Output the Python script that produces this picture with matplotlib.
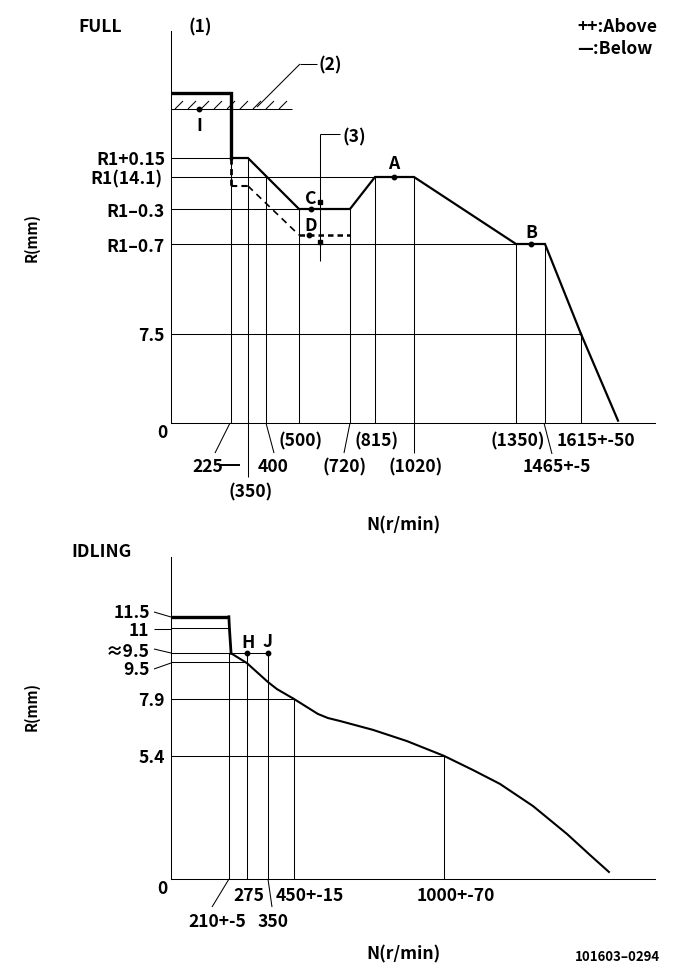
import numpy as np
import matplotlib
matplotlib.use('Agg')
import matplotlib.pyplot as plt

FONT = ['Noto Sans CJK JP', 'DejaVu Sans']
plt.rcParams['font.family'] = FONT

W, H = 681, 979

# ---- FULL panel: schematic scale anchors (value -> drawing position)
full_n_vals = [0, 225, 350, 400, 500, 720, 815, 1020, 1350, 1465, 1615, 1800, 2000]
full_n_pos = [171, 231, 248, 266, 299, 350, 375, 414, 516, 545, 581, 618, 655]
full_r_vals = [0, 7.5, 13.4, 13.5, 13.8, 14.02, 14.1, 14.25, 15.0, 15.5, 17.0]
full_r_pos = [424, 335, 245, 236, 210, 187, 178, 159, 110, 94, 32]

full_n = [0, 225, 225, 350, 500, 720, 815, 1020, 1350, 1465, 1615, 1800]
full_r = [15.5, 15.5, 14.25, 14.25, 13.8, 13.8, 14.1, 14.1, 13.4, 13.4, 7.5, 0.2]
below_n = [225, 225, 350, 500, 720]
below_r = [14.25, 14.02, 14.02, 13.5, 13.5]
full_h_r = [14.25, 14.1, 13.8, 13.4, 7.5]
full_h_n = [350, 815, 500, 1350, 1615]
full_h_lab = ['R1+0.15', 'R1(14.1)', 'R1\u20130.3', 'R1\u20130.7', '7.5']
full_v_n = [225, 350, 400, 500, 720, 815, 1020, 1350, 1465, 1615]
full_v_r = [15.5, 14.25, 14.1, 13.8, 13.8, 14.1, 14.1, 13.4, 13.4, 7.5]
full_pts = {'I': (105, 15.0), 'C': (552, 13.8), 'D': (545, 13.5), 'A': (915, 14.1), 'B': (1410, 13.4)}

# ---- IDLING panel
idle_thick_n = [0, 212, 214, 220]
idle_thick_r = [11.5, 11.5, 11.0, 9.9]
idle_n = [220, 278, 355, 388, 450, 538, 575, 619, 740, 864, 1000, 1106, 1205, 1326, 1451, 1535, 1604]
idle_r = [9.9, 9.47, 8.64, 8.33, 7.9, 7.24, 7.06, 6.93, 6.54, 6.05, 5.4, 4.78, 4.17, 3.2, 1.97, 1.05, 0.31]
idle_h_r = [11.0, 9.9, 9.5, 7.9, 5.4]
idle_h_n = [212, 355, 278, 450, 1000]
idle_v_n = [212, 278, 355, 450, 1000]
idle_v_r = [9.9, 9.9, 9.9, 7.9, 5.4]
idle_pts = {'H': (278, 9.9), 'J': (355, 9.9)}

fig = plt.figure(figsize=(W / 100, H / 100), dpi=100, facecolor='white')


def axes_px(x0, x1, ytop, ybot):
    return fig.add_axes([x0 / W, 1 - ybot / H, (x1 - x0) / W, (ybot - ytop) / H])


def style(ax):
    for s in ('top', 'right'):
        ax.spines[s].set_visible(False)
    for s in ('left', 'bottom'):
        ax.spines[s].set_linewidth(0.75)
    ax.patch.set_alpha(0)


def pw(xs, ys):
    xs, ys = np.asarray(xs, float), np.asarray(ys, float)
    return (lambda v: np.interp(v, xs, ys), lambda v: np.interp(v, ys, xs))


# FULL
ax1 = axes_px(171, 655, 32, 424)
style(ax1)
ax1.set_xscale('function', functions=pw(full_n_vals, full_n_pos))
ax1.set_yscale('function', functions=pw(full_r_vals, -np.array(full_r_pos)))
ax1.set_xlim(0, 2000)
ax1.set_ylim(0, 17)
ax1.set_xticks([])
ax1.set_yticks([])
ax1.minorticks_off()
thin = dict(color='k', lw=0.75, solid_capstyle='butt')
for r, n in zip(full_h_r, full_h_n):
    ax1.plot([0, n], [r, r], **thin)
for n, r in zip(full_v_n, full_v_r):
    ax1.plot([n, n], [0, r], **thin)
ax1.plot([0, 479], [15.0, 15.0], **thin)
ax1.plot(full_n[:3], full_r[:3], color='k', lw=2.4, solid_joinstyle='miter')
ax1.plot(full_n[2:11], full_r[2:11], color='k', lw=1.6, solid_joinstyle='miter')
ax1.plot(full_n[10:], full_r[10:], color='k', lw=1.6)
ax1.plot(below_n[:2], below_r[:2], color='k', lw=2.0, ls=(0, (2.2, 1.6)))
ax1.plot(below_n[1:3], below_r[1:3], color='k', lw=1.5, ls=(0, (3, 2)))
ax1.plot(below_n[2:4], below_r[2:4], color='k', lw=1.2, ls=(0, (4, 3)))
ax1.plot(below_n[3:], below_r[3:], color='k', lw=1.8, ls=(0, (2.2, 1.6)))
for n, r in full_pts.values():
    ax1.plot([n], [r], 'o', color='k', ms=3.2)

# IDLING
ax2 = axes_px(171, 655, 558, 880)
style(ax2)
ax2.set_xticks([])
ax2.set_yticks([])
ax2.set_xlim(0, 484 / 0.273)
ax2.set_ylim(0, 322 / 22.8)
for r, n in zip(idle_h_r, idle_h_n):
    ax2.plot([0, n], [r, r], **thin)
for n, r in zip(idle_v_n, idle_v_r):
    ax2.plot([n, n], [0, r], **thin)
ax2.plot(idle_thick_n[:2], idle_thick_r[:2], color='k', lw=2.4, solid_capstyle='butt')
ax2.plot(idle_thick_n[1:], idle_thick_r[1:], color='k', lw=2.0)
ax2.plot(idle_n, idle_r, color='k', lw=1.5)
for n, r in idle_pts.values():
    ax2.plot([n], [r], 'o', color='k', ms=3.2)

# Overlay in drawing positions for labels, leaders and the hatching
ov = fig.add_axes([0, 0, 1, 1])
ov.set_xlim(0, W)
ov.set_ylim(H, 0)
ov.axis('off')
ov.patch.set_alpha(0)


def T(x, y, s, ha='left', fs=12.6):
    ov.text(x, y + 6, s, ha=ha, va='baseline', fontsize=fs, color='k', weight='bold')


def L(xs, ys, lw=0.75):
    ov.plot(xs, ys, color='k', lw=lw, solid_capstyle='butt')


# hatching
for x in np.arange(175, 283, 13):
    L([x, x + 8], [110, 102])

# FULL labels
T(78, 26, 'FULL')
T(189, 26, '(1)')
T(577, 26, '++:Above')
T(577, 48, '\u2014:Below')
T(319, 64, '(2)')
L([300, 317], [65, 65])
L([257, 300], [108, 65])
T(343, 136, '(3)')
L([319.5, 340], [135, 135])
L([319.5, 319.5], [135, 262])
ov.plot([319.5, 319.5], [203, 243], 's', color='k', ms=3)
for y, x, s in zip([159, 178, 211, 246, 335], [165, 162, 165, 165, 165], full_h_lab):
    T(x, y, s, ha='right')
T(157, 432, '0')
T(199, 125, 'I', ha='center')
T(311, 198, 'C', ha='center')
T(311, 225, 'D', ha='center')
T(394, 163, 'A', ha='center')
T(531, 232, 'B', ha='center')
ov.text(32, 238, 'R(mm)', rotation=90, ha='center', va='center', fontsize=10.5, weight='bold')
ov.text(403, 525, 'N(r/min)', ha='center', va='center', fontsize=12.6, weight='bold')

L([230, 215], [424, 454])
L([266, 274], [424, 454])
L([248, 248], [424, 478])
L([350, 344], [424, 454])
L([414, 414], [424, 454])
L([544, 552], [424, 455])
T(192, 466, '225')
L([220, 240], [466, 466], lw=1.4)
T(258, 466, '400')
T(279, 440, '(500)')
T(355, 440, '(815)')
T(323, 466, '(720)')
T(389, 466, '(1020)')
T(228, 491, '(350)')
T(490, 440, '(1350)')
T(557, 440, '1615+-50')
T(523, 466, '1465+-5')

# IDLING labels
T(71, 551, 'IDLING')
T(150, 612, '11.5', ha='right')
T(149, 630, '11', ha='right')
T(150, 651, '\u22489.5', ha='right')
T(150, 669, '9.5', ha='right')
T(165, 700, '7.9', ha='right')
T(165, 757, '5.4', ha='right')
T(157, 888, '0')
L([154, 171], [613, 618])
L([154, 171], [630, 630])
L([154, 171], [650, 654])
L([154, 171], [670, 664])
T(248, 642, 'H', ha='center')
T(268, 641, 'J', ha='center')
ov.text(32, 707, 'R(mm)', rotation=90, ha='center', va='center', fontsize=10.5, weight='bold')
ov.text(403, 954, 'N(r/min)', ha='center', va='center', fontsize=12.6, weight='bold')
L([229, 212], [880, 908])
L([268, 272], [880, 908])
T(188, 921, '210+-5')
T(233, 895, '275')
T(257, 921, '350')
T(276, 895, '450+-15')
T(417, 895, '1000+-70')
T(575, 955, '101603\u20130294', fs=9.5)

fig.savefig('out.png', dpi=100)
